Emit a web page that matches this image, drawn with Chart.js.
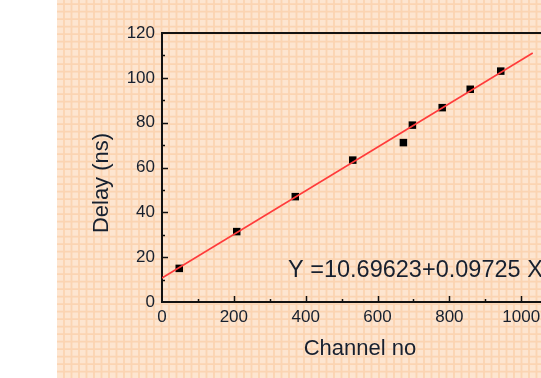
<!DOCTYPE html>
<html>
<head>
<meta charset="utf-8">
<script src="https://cdn.jsdelivr.net/npm/chart.js@4"></script>
<style>
  html, body { margin: 0; padding: 0; background: #fff; overflow: hidden; width: 541px; height: 378px; }
  #wrap { position: absolute; left: 57px; top: 0; }
</style>
</head>
<body>
<div id="wrap"><canvas id="chart" width="560" height="378"></canvas></div>
<script>
// measured points
const channelNo = [48, 208, 371, 531, 672, 697, 780, 858, 943];
const delayNs = [15.0, 31.4, 47.0, 63.3, 71.1, 78.9, 86.7, 94.9, 103.0];

// ends of the red fit line
const fitChannel = [0, 1032];
const fitDelay = [10.7, 111.1];

const xTitle = 'Channel no';
const yTitle = 'Delay (ns)';
const equationText = 'Y =10.69623+0.09725 X';

const textColor = '#17202f';
const fontFamily = "'Liberation Sans', Arial, sans-serif";

// graph paper behind everything
const paperPlugin = {
    id: 'paper',
    beforeDraw(chart) {
        const { ctx, width, height } = chart;
        ctx.save();
        ctx.fillStyle = '#fde5d0';
        ctx.fillRect(0, 0, width, height);
        ctx.strokeStyle = 'rgba(250, 196, 148, 0.5)';
        ctx.lineWidth = 1.8;
        ctx.beginPath();
        for (let x = 7; x < width; x += 7.5) {
            ctx.moveTo(x, 0);
            ctx.lineTo(x, height);
        }
        for (let y = 4.2; y < height; y += 7.5) {
            ctx.moveTo(0, y);
            ctx.lineTo(width, y);
        }
        ctx.stroke();
        ctx.restore();
    }
};

// inward ticks, top frame line, titles and the fit equation
const decorPlugin = {
    id: 'decor',
    afterDraw(chart) {
        const { ctx, chartArea: area, scales: { x, y } } = chart;
        ctx.save();
        ctx.strokeStyle = '#111';
        ctx.lineWidth = 2;
        ctx.beginPath();
        ctx.moveTo(area.left - 1, area.top);
        ctx.lineTo(chart.width, area.top);
        ctx.stroke();

        ctx.lineWidth = 1.5;
        ctx.beginPath();
        for (let v = 10; v < 120; v += 10) {
            const py = Math.round(y.getPixelForValue(v)) + 0.5;
            const len = v % 20 === 0 ? 6 : 3;
            ctx.moveTo(area.left, py);
            ctx.lineTo(area.left + len, py);
        }
        for (let v = 100; v <= 1200; v += 100) {
            const px = Math.round(x.getPixelForValue(v)) + 0.5;
            const len = v % 200 === 0 ? 6 : 3;
            ctx.moveTo(px, area.bottom);
            ctx.lineTo(px, area.bottom - len);
        }
        ctx.stroke();

        ctx.fillStyle = textColor;
        ctx.font = '22px ' + fontFamily;
        ctx.textAlign = 'center';
        ctx.textBaseline = 'alphabetic';
        ctx.fillText(xTitle, 303, 355);

        ctx.save();
        ctx.translate(50.5, 183);
        ctx.rotate(-Math.PI / 2);
        ctx.fillText(yTitle, 0, 0);
        ctx.restore();

        ctx.font = '23.5px ' + fontFamily;
        ctx.textAlign = 'left';
        ctx.fillText(equationText, 231, 277);
        ctx.restore();
    }
};

new Chart(document.getElementById('chart'), {
    type: 'scatter',
    data: {
        datasets: [
            {
                type: 'line',
                data: fitChannel.map((c, i) => ({ x: c, y: fitDelay[i] })),
                borderColor: '#ff3b3b',
                borderWidth: 1.6,
                pointRadius: 0,
                fill: false
            },
            {
                data: channelNo.map((c, i) => ({ x: c, y: delayNs[i] })),
                pointStyle: 'rect',
                pointRadius: 5.3,
                backgroundColor: '#000',
                borderColor: '#000',
                borderWidth: 0
            }
        ]
    },
    options: {
        responsive: false,
        animation: false,
        devicePixelRatio: 1,
        layout: { padding: { left: 0, top: 33, right: 21, bottom: 0 } },
        plugins: { legend: { display: false }, tooltip: { enabled: false } },
        scales: {
            x: {
                type: 'linear',
                min: 0,
                max: 1200,
                afterFit: (s) => { s.height = 76; },
                ticks: { stepSize: 200, color: textColor, padding: 5, maxRotation: 0, callback: (v) => String(v), font: { family: fontFamily, size: 17 } },
                grid: { display: false, drawTicks: false },
                border: { display: true, color: '#111', width: 2 }
            },
            y: {
                min: 0,
                max: 120,
                afterFit: (s) => { s.width = 105; },
                ticks: { stepSize: 20, color: textColor, padding: 7, callback: (v) => String(v), font: { family: fontFamily, size: 17 } },
                grid: { display: false, drawTicks: false },
                border: { display: true, color: '#111', width: 2 }
            }
        }
    },
    plugins: [paperPlugin, decorPlugin]
});
</script>
</body>
</html>
